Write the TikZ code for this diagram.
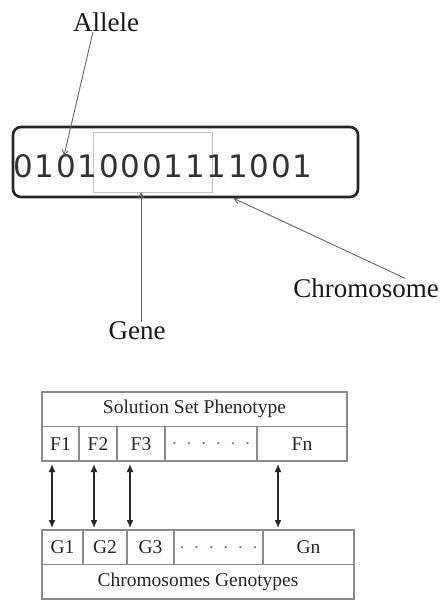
\documentclass[tikz,border=0pt]{standalone}
\usepackage{fontspec}
\setmainfont{Liberation Serif}
\newfontfamily\bitfont{DejaVu Sans}
\usetikzlibrary{positioning}
\usetikzlibrary{arrows.meta}
\definecolor{geneline}{RGB}{190,195,212}
\tikzset{label text/.style={ font=\fontsize{27}{30}\selectfont, text=black!90, inner sep=0pt },
            bit/.style={ font=\bitfont\fontsize{31}{34}\selectfont, text=black!80, inner sep=0pt, anchor=base },
            pointer/.style={ draw=black!60, line width=0.9pt, -{Straight Barb[length=5pt,width=6pt]} },
            cell/.style={ draw=black!45, line width=1.2pt, minimum height=34.5pt, inner sep=0pt, outer sep=0pt,
                font=\fontsize{19.5}{22}\selectfont, text=black!85 },
            pair/.style={ draw=black!85, line width=1.4pt, shorten <=3pt, shorten >=2pt,
                {Latex[length=8pt,width=7pt]}-{Latex[length=8pt,width=7pt]} }}

\begin{document}
\begin{tikzpicture}[x=1pt,y=-1pt]
            \useasboundingbox (0,0) rectangle (447,602);
            % chromosome with its bits
            \node [draw=black!85, line width=2.6pt, rounded corners=8pt, minimum width=345pt,
                minimum height=70pt, inner sep=0pt] (chrbox) at (185.5,162) {};
            \node [draw=geneline, line width=0.8pt, minimum width=119pt, minimum height=60pt,
                inner sep=0pt] (genebox) at (152.5,162) {};
            \foreach \d [count=\i] in {0,1,0,1,0,0,0,1,1,1,1,0,0,1}
                \node [bit] (b\i) at (23+21.5*\i-21.5,177) {\d};
            \node [label text] (allele) at (106,22) {Allele};
            \node [label text] (gene) at (137,331) {Gene};
            \node [label text] (chrom) at (366,288) {Chromosome};
            \draw [pointer] ([xshift=-13pt]allele.south) -- ([xshift=-2pt,yshift=-2pt]b3.north);
            \draw [pointer] ([xshift=4pt]gene.north) -- ([xshift=-11.5pt]genebox.south);
            \draw [pointer] ([xshift=39pt]chrom.north) -- ([xshift=48pt]chrbox.south);
            % phenotype table
            \node [cell, minimum width=305pt, anchor=north west] (phen) at (42,392) {Solution Set Phenotype};
            \node [cell, minimum width=37pt, anchor=north west] (f1) at (phen.south west) {F1};
            \node [cell, minimum width=38pt, right=0pt of f1] (f2) {F2};
            \node [cell, minimum width=48pt, right=0pt of f2] (f3) {F3};
            \node [cell, minimum width=92pt, right=0pt of f3, text=black!50] (fdots) {.\ \ .\ \ .\ \ .\ \ .\ \ .};
            \node [cell, minimum width=90pt, right=0pt of fdots] (fn) {Fn};
            % genotype table
            \node [cell, minimum width=41pt, anchor=north west] (g1) at (42,530) {G1};
            \node [cell, minimum width=44pt, right=0pt of g1] (g2) {G2};
            \node [cell, minimum width=47pt, right=0pt of g2] (g3) {G3};
            \node [cell, minimum width=89pt, right=0pt of g3, text=black!50] (gdots) {.\ \ .\ \ .\ \ .\ \ .\ \ .};
            \node [cell, minimum width=91pt, right=0pt of gdots] (gn) {Gn};
            \node [cell, minimum width=312pt, anchor=north west] (geno) at (g1.south west) {Chromosomes Genotypes};
            % mapping
            \draw [pair] ([xshift=-8.5pt]f1.south) -- ([xshift=-10.5pt]g1.north);
            \draw [pair] ([xshift=-4pt]f2.south) -- ([xshift=-11pt]g2.north);
            \draw [pair] ([xshift=-11pt]f3.south) -- ([xshift=-20.5pt]g3.north);
            \draw [pair] ([xshift=-24pt]fn.south) -- ([xshift=-30.5pt]gn.north);
        \end{tikzpicture}
\end{document}
